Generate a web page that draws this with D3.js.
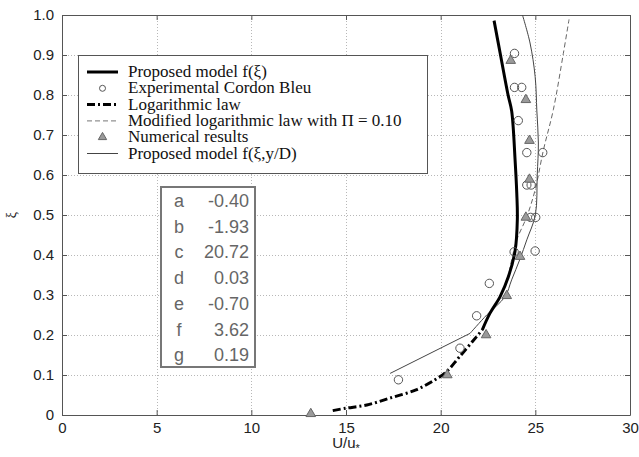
<!DOCTYPE html>
<html>
<head>
<meta charset="utf-8">
<script src="https://cdn.jsdelivr.net/npm/d3@7"></script>
<style>
  body { margin: 0; background: #fff; }
  svg { display: block; }
</style>
</head>
<body>
<div id="chart"></div>
<script>
// series, as [U/u*, xi] pairs
var proposedModel = [[22.2,0.213],[22.6,0.254],[23.14,0.296],[23.58,0.346],[23.93,0.41],[24.05,0.49],[24.02,0.554],[23.93,0.638],[23.75,0.76],[23.56,0.8],[23.16,0.9],[22.82,0.986]];
var logLaw = [[14.3,0.011],[15.0,0.017],[16.1,0.025],[17.3,0.042],[18.7,0.063],[19.7,0.088],[20.3,0.108],[21.0,0.146],[21.9,0.196],[22.2,0.213]];
var modifiedLogLaw = [[22.2,0.213],[22.6,0.254],[23.14,0.296],[23.55,0.346],[23.75,0.388],[24.02,0.438],[24.55,0.496],[24.99,0.563],[25.43,0.663],[25.95,0.763],[26.48,0.904],[26.78,0.989]];
var proposedModelYD = [[17.33,0.104],[21.55,0.204],[22.43,0.25],[23.4,0.296],[23.75,0.338],[24.19,0.39],[24.55,0.438],[25.0,0.5],[25.1,0.6],[25.16,0.68],[25.08,0.76],[24.99,0.846],[24.72,0.93],[24.32,1.0]];
var experimental = [[23.9,0.904],[23.9,0.819],[24.28,0.819],[24.1,0.736],[24.55,0.656],[25.39,0.656],[24.55,0.575],[24.78,0.575],[24.75,0.494],[25.02,0.494],[24.99,0.41],[23.88,0.408],[22.57,0.329],[21.9,0.248],[21.02,0.167],[17.77,0.088]];
var numerical = [[23.7,0.886],[24.5,0.788],[24.69,0.686],[24.69,0.589],[24.5,0.494],[24.19,0.396],[23.49,0.298],[22.4,0.2],[20.35,0.1],[13.14,0.003]];

var xTicks = [0,5,10,15,20,25,30];
var yTicks = [0,0.1,0.2,0.3,0.4,0.5,0.6,0.7,0.8,0.9,1.0];
var yTickLabels = ['0','0.1','0.2','0.3','0.4','0.5','0.6','0.7','0.8','0.9','1.0'];

var legendLabels = ['Proposed model f(\u03BE)','Experimental Cordon Bleu','Logarithmic law','Modified logarithmic law with \u03A0 = 0.10','Numerical results','Proposed model f(\u03BE,y/D)'];

var tableLetters = ['a','b','c','d','e','f','g'];
var tableValues = ['-0.40','-1.93','20.72','0.03','-0.70','3.62','0.19'];

var width = 639, height = 457;
// plot box (note: "top" is taken by window.top, so use other names)
var plotL = 62, plotR = 630, plotT = 15, plotB = 415;

var svg = d3.select('#chart').append('svg')
  .attr('width', width)
  .attr('height', height);

var x = d3.scaleLinear().domain([0, 30]).range([plotL, plotR]);
var y = d3.scaleLinear().domain([0, 1]).range([plotB, plotT]);

// grid
var grid = svg.append('g').attr('stroke', '#b8b8b8').attr('stroke-width', 1).attr('stroke-dasharray', '1,2');
grid.selectAll('.gx').data(xTicks.slice(1, -1)).enter().append('line')
  .attr('x1', function(d){ return Math.round(x(d)) + 0.5; })
  .attr('x2', function(d){ return Math.round(x(d)) + 0.5; })
  .attr('y1', plotT).attr('y2', plotB);
grid.selectAll('.gy').data(yTicks.slice(1, -1)).enter().append('line')
  .attr('y1', function(d){ return Math.round(y(d)) + 0.5; })
  .attr('y2', function(d){ return Math.round(y(d)) + 0.5; })
  .attr('x1', plotL).attr('x2', plotR);

// axes (MATLAB style, inward ticks, box)
svg.append('g')
  .attr('transform', 'translate(0,' + plotB + ')')
  .call(d3.axisBottom(x).tickValues(xTicks).tickSizeInner(-5).tickSizeOuter(0).tickPadding(7));
svg.append('g')
  .attr('transform', 'translate(' + plotL + ',0)')
  .call(d3.axisLeft(y).tickValues(yTicks).tickFormat(function(d, i){ return yTickLabels[i]; }).tickSizeInner(-5).tickSizeOuter(0).tickPadding(8));
svg.append('g')
  .attr('transform', 'translate(0,' + plotT + ')')
  .call(d3.axisTop(x).tickValues(xTicks).tickSizeInner(-5).tickSizeOuter(0).tickFormat(''));
svg.append('g')
  .attr('transform', 'translate(' + plotR + ',0)')
  .call(d3.axisRight(y).tickValues(yTicks).tickSizeInner(-5).tickSizeOuter(0).tickFormat(''));

svg.selectAll('.domain').attr('stroke', '#555');
svg.selectAll('.tick line').attr('stroke', '#555');
svg.selectAll('.tick text')
  .attr('font-family', 'Liberation Sans, Arial, sans-serif')
  .attr('font-size', 15)
  .attr('fill', '#222');

svg.append('text')
  .attr('x', x(15)).attr('y', 448)
  .attr('text-anchor', 'middle')
  .attr('font-family', 'Liberation Sans, Arial, sans-serif')
  .attr('font-size', 15).attr('fill', '#222')
  .text('U/u')
  .append('tspan').attr('font-size', 11).attr('dy', 4).text('*');

svg.append('text')
  .attr('transform', 'translate(16,' + y(0.5) + ') rotate(-90)')
  .attr('text-anchor', 'middle')
  .attr('font-family', 'Liberation Serif, serif')
  .attr('font-size', 14).attr('fill', '#222')
  .text('\u03BE');

// curves
var line = d3.line()
  .x(function(d){ return x(d[0]); })
  .y(function(d){ return y(d[1]); })
  .curve(d3.curveCatmullRom);

var lineStraight = d3.line()
  .x(function(d){ return x(d[0]); })
  .y(function(d){ return y(d[1]); });

svg.append('path').datum(modifiedLogLaw)
  .attr('d', line).attr('fill', 'none')
  .attr('stroke', '#666').attr('stroke-width', 1).attr('stroke-dasharray', '5,3');

// first segment of this one is straight
svg.append('path').datum(proposedModelYD.slice(0, 2))
  .attr('d', lineStraight).attr('fill', 'none')
  .attr('stroke', '#444').attr('stroke-width', 1);
svg.append('path').datum(proposedModelYD.slice(1))
  .attr('d', line).attr('fill', 'none')
  .attr('stroke', '#444').attr('stroke-width', 1);

svg.append('path').datum(logLaw)
  .attr('d', line).attr('fill', 'none')
  .attr('stroke', '#000').attr('stroke-width', 3).attr('stroke-dasharray', '8,3,2,3');

svg.append('path').datum(proposedModel)
  .attr('d', line).attr('fill', 'none')
  .attr('stroke', '#000').attr('stroke-width', 3);

// markers
var tri = d3.symbol().type(d3.symbolTriangle).size(40);

svg.selectAll('.exp').data(experimental).enter().append('circle')
  .attr('cx', function(d){ return x(d[0]); })
  .attr('cy', function(d){ return y(d[1]); })
  .attr('r', 4.2)
  .attr('fill', 'none').attr('stroke', '#555').attr('stroke-width', 1);

svg.selectAll('.num').data(numerical).enter().append('path')
  .attr('d', tri)
  .attr('transform', function(d){ return 'translate(' + x(d[0]) + ',' + y(d[1]) + ')'; })
  .attr('fill', '#9a9a9a').attr('stroke', '#666').attr('stroke-width', 1);

// legend
var lg = svg.append('g');
lg.append('rect')
  .attr('x', 78.5).attr('y', 55.5).attr('width', 349).attr('height', 118)
  .attr('fill', '#fff').attr('stroke', '#555').attr('stroke-width', 1);

var rowY = function(i){ return 72 + i * 16.3; };
var sx1 = 87, sx2 = 118;

lg.selectAll('.lt').data(legendLabels).enter().append('text')
  .attr('x', 128).attr('y', function(d, i){ return rowY(i) + 5; })
  .attr('font-family', 'Liberation Serif, Times New Roman, serif')
  .attr('font-size', 17).attr('fill', '#111')
  .text(function(d){ return d; });

lg.append('line').attr('x1', sx1).attr('x2', sx2).attr('y1', rowY(0)).attr('y2', rowY(0))
  .attr('stroke', '#000').attr('stroke-width', 3);
lg.append('circle').attr('cx', (sx1 + sx2) / 2).attr('cy', rowY(1)).attr('r', 3)
  .attr('fill', 'none').attr('stroke', '#555');
lg.append('line').attr('x1', sx1).attr('x2', sx2).attr('y1', rowY(2)).attr('y2', rowY(2))
  .attr('stroke', '#000').attr('stroke-width', 3).attr('stroke-dasharray', '8,3,2,3');
lg.append('line').attr('x1', sx1).attr('x2', sx2).attr('y1', rowY(3)).attr('y2', rowY(3))
  .attr('stroke', '#777').attr('stroke-width', 1).attr('stroke-dasharray', '5,3');
lg.append('path').attr('d', d3.symbol().type(d3.symbolTriangle).size(30))
  .attr('transform', 'translate(' + (sx1 + sx2) / 2 + ',' + rowY(4) + ')')
  .attr('fill', '#9a9a9a').attr('stroke', '#666');
lg.append('line').attr('x1', sx1).attr('x2', sx2).attr('y1', rowY(5)).attr('y2', rowY(5))
  .attr('stroke', '#444').attr('stroke-width', 1);

// coefficient table
var tb = svg.append('g');
tb.append('rect')
  .attr('x', 161).attr('y', 187).attr('width', 94).attr('height', 180)
  .attr('fill', '#fff').attr('stroke', '#777').attr('stroke-width', 2);
tb.selectAll('.tl').data(tableLetters).enter().append('text')
  .attr('x', 179).attr('y', function(d, i){ return 207 + i * 25.7; })
  .attr('text-anchor', 'middle')
  .attr('font-family', 'Liberation Sans, Arial, sans-serif')
  .attr('font-size', 18).attr('fill', '#666')
  .text(function(d){ return d; });
tb.selectAll('.tv').data(tableValues).enter().append('text')
  .attr('x', 249).attr('y', function(d, i){ return 207 + i * 25.7; })
  .attr('text-anchor', 'end')
  .attr('font-family', 'Liberation Sans, Arial, sans-serif')
  .attr('font-size', 18).attr('fill', '#666')
  .text(function(d){ return d; });
</script>
</body>
</html>
